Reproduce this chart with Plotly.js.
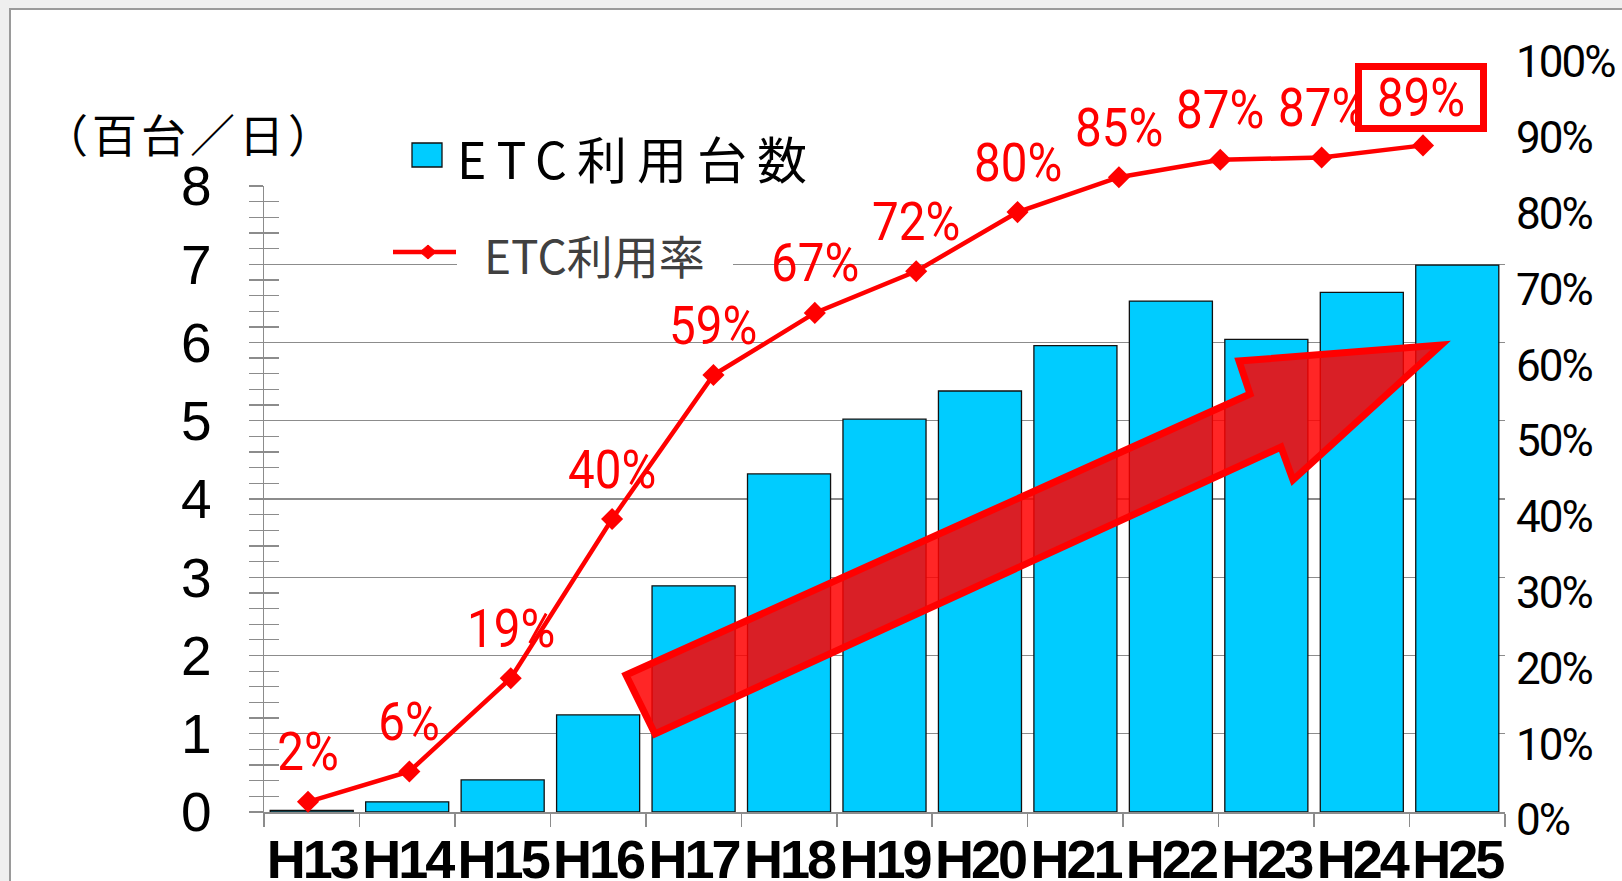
<!DOCTYPE html>
<html>
<head>
<meta charset="utf-8">
<script src="https://cdn.plot.ly/plotly-3.0.1.min.js"></script>
<style>
  html, body { margin: 0; padding: 0; background: #efefef; }
  #chart { width: 1622px; height: 881px; }
  #chart .xtick text { letter-spacing: -3px; }
  #chart .y2tick text { letter-spacing: -2px; }
</style>
</head>
<body>
<div id="chart"></div>
<script>
// ---- data ----
const years = ["H13","H14","H15","H16","H17","H18","H19","H20","H21","H22","H23","H24","H25"];
const counts = [0.02, 0.13, 0.41, 1.24, 2.89, 4.32, 5.02, 5.38, 5.96, 6.53, 6.04, 6.64, 6.99];
const rateYears = ["H14","H15","H16","H17","H18","H19","H20","H21","H22","H23","H24","H25"];
const rates = [2.4, 6.4, 18.7, 39.7, 58.7, 66.9, 72.4, 80.2, 84.8, 87.1, 87.4, 89.0];
const leftTicks = [0,1,2,3,4,5,6,7,8];
const rightTicks = [0,10,20,30,40,50,60,70,80,90,100];
const rightTickText = rightTicks.map(v => v + "%");
const countName = "ETC利用台数";
const rateName = "ETC利用率";
const unitLabel = "（百台／日）";

// ---- geometry helpers (pixel -> paper) ----
const W = 1622, H = 881;
const L = 264, R = 117, T = 62, B = 61;
const PW = W - L - R, PH = H - T - B;
const px = v => (v - L) / PW;
const py = v => (H - B - v) / PH;

const sans = "Liberation Sans, Arial, sans-serif";
const rob = "Roboto, Liberation Sans, sans-serif";
const cjk = "Noto Sans CJK JP, Noto Sans CJK SC, sans-serif";

const traces = [
  {
    type: "bar", x: years, y: counts, xaxis: "x", yaxis: "y",
    name: countName,
    marker: { color: "#00CCFF", line: { color: "#111111", width: 1.3 } },
    hoverinfo: "skip"
  },
  {
    type: "scatter", x: [], y: [], xaxis: "x", yaxis: "y3",
    showlegend: false, hoverinfo: "skip"
  },
  {
    type: "scatter", mode: "lines+markers", x: rateYears, y: rates,
    xaxis: "x2", yaxis: "y2", name: rateName,
    line: { color: "#FF0000", width: 4.5 },
    marker: { symbol: "diamond", size: 17, color: "#FF0000" },
    hoverinfo: "skip"
  }
];

const minorVals = [];
for (let i = 0; i <= 40; i++) { if (i % 5 !== 0) minorVals.push(i / 5); }

const annotations = [];
rateYears.forEach((c, i) => {
  const last = i === rateYears.length - 1;
  const a = {
    xref: "x2", yref: "y2", x: i, y: rates[i],
    text: Math.round(rates[i]) + "%",
    showarrow: false, yshift: last ? 48 : 50, xshift: last ? -2 : 0,
    font: { family: rob, size: 54, color: "#FF0000" }
  };
  if (last) {
    a.bordercolor = "#FF0000"; a.borderwidth = 7; a.borderpad = 0;
    a.bgcolor = "#FFFFFF"; a.width = 118; a.height = 55;
  }
  annotations.push(a);
});
const titleIdx = annotations.length;
annotations.push(
  { xref: "paper", yref: "paper", x: px(190), y: py(133), xanchor: "center", yanchor: "middle",
    text: unitLabel, showarrow: false, font: { family: cjk, size: 45, color: "#000" } },
  { xref: "paper", yref: "paper", x: px(490), y: py(157), xanchor: "left", yanchor: "middle",
    text: countName, showarrow: false, font: { family: cjk, size: 50, color: "#000" } },
  { xref: "paper", yref: "paper", x: px(482), y: py(254), xanchor: "left", yanchor: "middle",
    text: rateName, showarrow: false, font: { family: cjk, size: 46, color: "#404040" } }
);

// text styling that Plotly has no attribute for (condensed labels, spaced legend/title)
const st = document.createElement("style");
st.textContent =
  rateYears.map((_, i) => '#chart g.annotation[data-index="' + i + '"] text.annotation-text').join(",") +
  "{transform-box:fill-box;transform-origin:50% 50%;transform:scaleX(0.88);}" +
  '#chart g.annotation[data-index="' + titleIdx + '"] text.annotation-text{letter-spacing:4px;}' +
  '#chart g.annotation[data-index="' + (titleIdx + 1) + '"] text.annotation-text{letter-spacing:10px;}';
document.head.appendChild(st);

function path(pts) {
  return "M" + pts.map(p => px(p[0]) + "," + py(p[1])).join(" L") + " Z";
}

const shapes = [
  // outer frame
  { type: "rect", xref: "paper", yref: "paper", layer: "below",
    x0: px(10), x1: px(1660), y0: py(9), y1: py(920),
    fillcolor: "#FFFFFF", line: { color: "#9a9a9a", width: 2 } },
  // legend: bar swatch
  { type: "rect", xref: "paper", yref: "paper",
    x0: px(412), x1: px(442), y0: py(167), y1: py(143),
    fillcolor: "#00CCFF", line: { color: "#111", width: 1.3 } },
  // legend: white box behind rate entry
  { type: "rect", xref: "paper", yref: "paper", layer: "above",
    x0: px(457), x1: px(733), y0: py(280), y1: py(232),
    fillcolor: "#FFFFFF", line: { width: 0 } },
  // legend: line
  { type: "line", xref: "paper", yref: "paper",
    x0: px(393), x1: px(456), y0: py(252), y1: py(252),
    line: { color: "#FF0000", width: 4.5 } },
  // legend: diamond
  { type: "path", xref: "paper", yref: "paper",
    path: path([[428, 245], [436, 252], [428, 259], [420, 252]]),
    fillcolor: "#FF0000", line: { color: "#FF0000", width: 1 } },
  // big trend arrow
  { type: "path", xref: "paper", yref: "paper", layer: "above",
    path: path([[626, 675], [1250, 394], [1239, 361], [1441, 345], [1293, 480], [1281, 447], [655, 734]]),
    fillcolor: "rgba(255,0,0,0.85)", line: { color: "#FF0000", width: 7 } }
];

const layout = {
  width: W, height: H,
  margin: { l: L, r: R, t: T, b: B, pad: 0 },
  paper_bgcolor: "#efefef",
  plot_bgcolor: "rgba(0,0,0,0)",
  showlegend: false,
  bargap: 0.13,
  xaxis: {
    type: "category", domain: [0, 1], anchor: "y", range: [-0.5, 12.5],
    tickson: "boundaries", ticks: "outside", ticklen: 13, tickcolor: "#8c8c8c", tickwidth: 1.5,
    showline: true, linecolor: "#8c8c8c", linewidth: 1.5, showgrid: false, zeroline: false,
    tickangle: 0,
    tickfont: { family: sans, size: 54, color: "#000", weight: "bold" },
    ticklabelstandoff: 0, automargin: false, fixedrange: true
  },
  yaxis: {
    domain: [py(812), py(186)], anchor: "x", range: [0, 8],
    tickmode: "array", tickvals: leftTicks,
    ticks: "outside", ticklen: 14, tickcolor: "#8c8c8c", tickwidth: 1.3,
    minor: { tickmode: "array", tickvals: minorVals, ticks: "outside", ticklen: 14,
             tickcolor: "#8c8c8c", tickwidth: 1.3, showgrid: false },
    showline: true, linecolor: "#8c8c8c", linewidth: 1.5,
    showgrid: true, gridcolor: "#8c8c8c", gridwidth: 1.3, zeroline: false,
    tickfont: { family: sans, size: 55, color: "#000" },
    ticklabelstandoff: 26, automargin: false, fixedrange: true
  },
  yaxis3: {
    overlaying: "y", anchor: "x", side: "left", range: [0, 8],
    tickmode: "linear", tick0: 0, dtick: 0.2,
    ticks: "inside", ticklen: 15, tickcolor: "#8c8c8c", tickwidth: 1.3,
    showticklabels: false, showgrid: false, showline: false, zeroline: false,
    automargin: false, fixedrange: true
  },
  xaxis2: {
    type: "category", domain: [0, 1], anchor: "y2",
    range: [-0.4341, 11.809], visible: false, fixedrange: true
  },
  yaxis2: {
    domain: [0, 1], anchor: "x2", side: "right", range: [0, 100],
    tickmode: "array", tickvals: rightTicks, ticktext: rightTickText,
    ticks: "", showgrid: false, showline: false, zeroline: false,
    tickfont: { family: rob, size: 44, color: "#000" },
    ticklabelstandoff: 10, automargin: false, fixedrange: true
  },
  annotations: annotations,
  shapes: shapes
};

Plotly.newPlot("chart", traces, layout, { staticPlot: true, displayModeBar: false });
</script>
</body>
</html>
